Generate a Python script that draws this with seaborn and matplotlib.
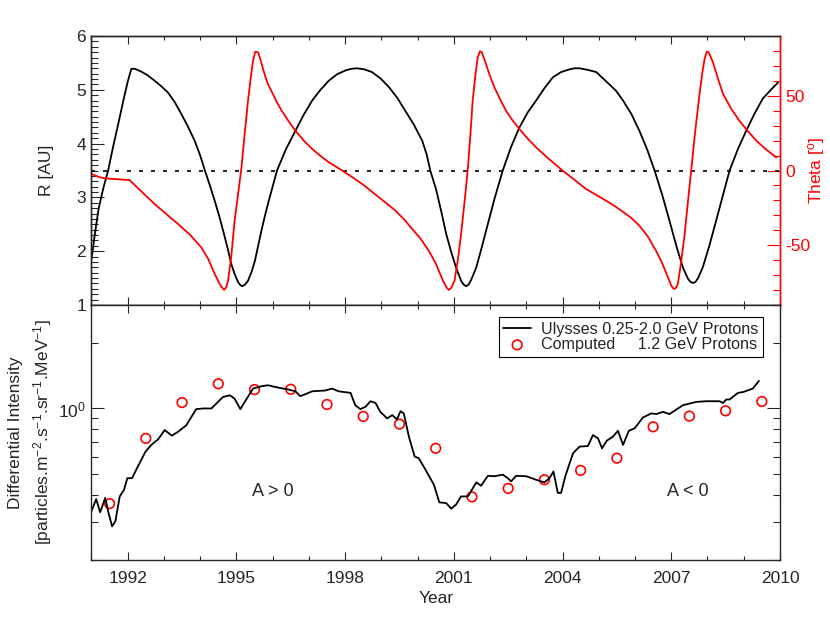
import matplotlib
matplotlib.use('Agg')
import matplotlib.pyplot as plt
import matplotlib.ticker as mticker
import seaborn as sns

# Ulysses heliocentric distance [AU]
r_year = [1991.0, 1991.1, 1991.2, 1991.33, 1991.46, 1991.6, 1991.75, 1991.88, 1992.0, 1992.1,
          1992.2, 1992.37, 1992.55, 1992.74, 1992.92, 1993.11, 1993.3, 1993.48, 1993.66, 1993.85,
          1994.0, 1994.13, 1994.27, 1994.4, 1994.54, 1994.68, 1994.77, 1994.86, 1994.96, 1995.05,
          1995.11, 1995.16, 1995.22, 1995.32, 1995.42, 1995.51, 1995.6, 1995.69, 1995.78, 1995.87,
          1996.0, 1996.12, 1996.37, 1996.63, 1996.86, 1997.09, 1997.32, 1997.55, 1997.78, 1998.01,
          1998.17, 1998.33, 1998.53, 1998.74, 1998.98, 1999.21, 1999.44, 1999.66, 1999.9, 2000.13,
          2000.25, 2000.35, 2000.51, 2000.65, 2000.79, 2000.93, 2001.06, 2001.2, 2001.27, 2001.34,
          2001.41, 2001.48, 2001.62, 2001.75, 2001.89, 2002.12, 2002.35, 2002.58, 2002.81, 2003.04,
          2003.27, 2003.5, 2003.73, 2003.96, 2004.19, 2004.33, 2004.47, 2004.7, 2004.93, 2005.2,
          2005.48, 2005.67, 2005.9, 2006.12, 2006.33, 2006.54, 2006.75, 2006.95, 2007.14, 2007.32,
          2007.46, 2007.53, 2007.6, 2007.67, 2007.74, 2007.87, 2008.05, 2008.24, 2008.43, 2008.61,
          2008.84, 2009.07, 2009.3, 2009.53, 2009.75, 2009.95]
r_au = [1.85, 2.35, 2.8, 3.18, 3.5, 3.95, 4.4, 4.8, 5.15, 5.39,
        5.39, 5.34, 5.27, 5.17, 5.07, 4.95, 4.77, 4.55, 4.32, 4.05,
        3.78, 3.5, 3.22, 2.94, 2.62, 2.26, 2.02, 1.76, 1.56, 1.42,
        1.37, 1.35, 1.37, 1.45, 1.62, 1.82, 2.1, 2.38, 2.64, 2.88,
        3.2, 3.5, 3.9, 4.24, 4.54, 4.8, 5.0, 5.17, 5.29, 5.36,
        5.39, 5.4, 5.38, 5.33, 5.21, 5.05, 4.85, 4.61, 4.35, 4.05,
        3.8, 3.5, 3.15, 2.75, 2.32, 1.98, 1.7, 1.45, 1.38, 1.35,
        1.38, 1.47, 1.7, 2.02, 2.38, 2.97, 3.5, 3.94, 4.3, 4.58,
        4.8, 5.03, 5.23, 5.33, 5.38, 5.4, 5.4, 5.37, 5.33, 5.16,
        4.98, 4.8, 4.55, 4.24, 3.9, 3.5, 3.05, 2.57, 2.1, 1.7,
        1.49, 1.43, 1.41, 1.43, 1.5, 1.7, 2.1, 2.57, 3.05, 3.5,
        3.9, 4.24, 4.56, 4.84, 5.0, 5.14]

# Ulysses heliographic latitude [deg]
theta_year = [1991.0, 1991.2, 1991.36, 1991.7, 1992.05, 1992.4, 1992.74, 1993.06, 1993.39, 1993.72,
              1994.03, 1994.22, 1994.4, 1994.55, 1994.66, 1994.72, 1994.77, 1994.86, 1994.95, 1995.05,
              1995.14, 1995.23, 1995.32, 1995.4, 1995.46, 1995.52, 1995.6, 1995.66, 1995.71, 1995.79,
              1995.87, 1995.98, 1996.1, 1996.25, 1996.44, 1996.63, 1996.86, 1997.09, 1997.32, 1997.55,
              1997.92, 1998.2, 1998.47, 1998.7, 1998.93, 1999.16, 1999.39, 1999.62, 1999.85, 2000.08,
              2000.31, 2000.51, 2000.6, 2000.7, 2000.8, 2000.86, 2000.93, 2001.02, 2001.11, 2001.2,
              2001.3, 2001.39, 2001.46, 2001.52, 2001.6, 2001.66, 2001.72, 2001.77, 2001.84, 2001.98,
              2002.12, 2002.28, 2002.44, 2002.62, 2002.81, 2003.04, 2003.27, 2003.63, 2004.0, 2004.33,
              2004.65, 2004.93, 2005.2, 2005.43, 2005.66, 2005.9, 2006.12, 2006.35, 2006.58, 2006.75,
              2006.91, 2007.0, 2007.07, 2007.12, 2007.18, 2007.27, 2007.37, 2007.46, 2007.55, 2007.66,
              2007.78, 2007.86, 2007.92, 2007.98, 2008.03, 2008.08, 2008.15, 2008.29, 2008.43, 2008.65,
              2008.88, 2009.12, 2009.35, 2009.62, 2009.9]
theta_deg = [-2.3, -4.3, -5.2, -5.8, -6.4, -14.5, -22.4, -29.0, -35.8, -43.0,
             -51.4, -59.0, -69.2, -76.5, -79.9, -78.0, -73.7, -57.0, -33.6, -15.0,
             2.1, 25.0, 46.7, 63.0, 73.5, 79.5, 79.0, 74.5, 70.1, 63.5,
             57.9, 52.5, 46.5, 40.0, 33.0, 26.6, 20.0, 14.4, 9.8, 5.5,
             0.0, -4.5, -9.0, -13.4, -17.9, -22.3, -26.9, -32.5, -39.1, -45.5,
             -53.7, -62.6, -68.0, -73.7, -78.3, -79.9, -78.5, -73.7, -60.0, -42.5,
             -20.0, 2.1, 25.0, 46.7, 65.0, 75.7, 79.8, 79.2, 74.6, 64.5,
             55.7, 47.5, 40.0, 33.5, 27.8, 21.3, 15.5, 7.6, 0.0, -6.2,
             -12.4, -16.3, -20.2, -23.6, -27.5, -31.8, -36.9, -44.0, -53.7, -62.0,
             -71.5, -77.0, -79.3, -78.8, -76.0, -62.0, -42.5, -21.0, 0.0, 26.0,
             51.2, 66.0, 74.6, 79.5, 79.2, 76.5, 72.4, 61.5, 51.2, 41.5,
             33.3, 26.2, 19.9, 14.0, 8.8]

# Ulysses 0.25-2.0 GeV protons
ulysses_year = [1991.0, 1991.13, 1991.24, 1991.38, 1991.47, 1991.57, 1991.66, 1991.78, 1991.9,
                1991.99, 1992.12, 1992.28, 1992.49, 1992.65, 1992.84, 1993.02, 1993.22, 1993.39,
                1993.62, 1993.75, 1993.89, 1994.08, 1994.31, 1994.63, 1994.82, 1994.95, 1995.11,
                1995.27, 1995.46, 1995.69, 1995.87, 1996.07, 1996.44, 1996.63, 1996.76, 1996.9,
                1997.09, 1997.45, 1997.64, 1997.82, 1998.15, 1998.28, 1998.42, 1998.56, 1998.7,
                1998.84, 1998.97, 1999.16, 1999.3, 1999.43, 1999.53, 1999.62, 1999.76, 1999.92,
                2000.03, 2000.22, 2000.45, 2000.6, 2000.79, 2000.93, 2001.06, 2001.2, 2001.39,
                2001.62, 2001.75, 2001.94, 2002.12, 2002.35, 2002.49, 2002.58, 2002.72, 2003.0,
                2003.27, 2003.5, 2003.64, 2003.75, 2003.87, 2003.96, 2004.08, 2004.29, 2004.47,
                2004.7, 2004.84, 2004.98, 2005.09, 2005.22, 2005.39, 2005.53, 2005.67, 2005.83,
                2005.99, 2006.22, 2006.45, 2006.59, 2006.77, 2006.95, 2007.32, 2007.69, 2007.97,
                2008.33, 2008.43, 2008.52, 2008.61, 2008.84, 2008.98, 2009.25, 2009.42]
ulysses_flux = [0.336, 0.382, 0.332, 0.387, 0.33, 0.286, 0.302, 0.393, 0.422,
                0.477, 0.477, 0.54, 0.632, 0.679, 0.721, 0.795, 0.749, 0.781,
                0.838, 0.91, 0.993, 1.0, 1.0, 1.13, 1.15, 1.11, 0.993,
                1.1, 1.235, 1.266, 1.28, 1.256, 1.222, 1.2, 1.14, 1.163,
                1.2, 1.21, 1.235, 1.2, 1.18, 1.035, 0.993, 1.017, 1.08,
                1.06, 0.965, 0.9, 0.932, 0.89, 0.972, 0.948, 0.741, 0.6,
                0.59, 0.521, 0.445, 0.369, 0.366, 0.345, 0.36, 0.393, 0.393,
                0.456, 0.44, 0.489, 0.487, 0.495, 0.477, 0.461, 0.489, 0.487,
                0.469, 0.456, 0.477, 0.512, 0.408, 0.408, 0.489, 0.622, 0.667,
                0.671, 0.754, 0.728, 0.655, 0.71, 0.741, 0.789, 0.679, 0.789,
                0.81, 0.909, 0.949, 0.942, 0.965, 0.942, 1.035, 1.072, 1.08,
                1.08, 1.06, 1.1, 1.1, 1.18, 1.19, 1.235, 1.34]

# computed 1.2 GeV protons
computed_year = [1991.5, 1992.5, 1993.5, 1994.5, 1995.5, 1996.5, 1997.5, 1998.5, 1999.5, 2000.5,
                 2001.5, 2002.5, 2003.5, 2004.5, 2005.5, 2006.5, 2007.5, 2008.5, 2009.5]
computed_flux = [0.364, 0.728, 1.065, 1.30, 1.222, 1.226, 1.043, 0.919, 0.847, 0.655,
                 0.391, 0.428, 0.469, 0.518, 0.59, 0.823, 0.922, 0.975, 1.077]

year_ticks = [1992, 1995, 1998, 2001, 2004, 2007, 2010]
cycle_labels = ['A > 0', 'A < 0']
cycle_pos = [(1996.0, 0.413), (2007.45, 0.413)]

sns.set_style('ticks')
plt.rcParams['font.family'] = ['Liberation Sans', 'DejaVu Sans']
plt.rcParams['mathtext.default'] = 'regular'
plt.rcParams['axes.unicode_minus'] = False
plt.rcParams['axes.linewidth'] = 1.0

fig = plt.figure(figsize=(8.3, 6.23), dpi=100)
ax_r = fig.add_axes([0.1102, 0.5104, 0.8295, 0.4318])
ax_th = ax_r.twinx()
ax_fl = fig.add_axes([0.1102, 0.1011, 0.8295, 0.4093])

# top panel: distance and latitude
sns.lineplot(x=r_year, y=r_au, ax=ax_r, color='black', lw=1.3)
ax_th.axhline(0, color='black', lw=1.2, ls=(0, (2.4, 4.8)))
sns.lineplot(x=theta_year, y=theta_deg, ax=ax_th, color='red', lw=1.3)

ax_r.set_xlim(1991, 2010)
ax_r.set_ylim(1, 6)
ax_th.set_ylim(-90, 90)
ax_r.xaxis.set_major_locator(mticker.FixedLocator(year_ticks))
ax_r.xaxis.set_minor_locator(mticker.MultipleLocator(1))
ax_r.yaxis.set_major_locator(mticker.MultipleLocator(1))
ax_r.yaxis.set_minor_locator(mticker.MultipleLocator(0.1))
ax_th.yaxis.set_major_locator(mticker.MultipleLocator(50))
ax_th.yaxis.set_minor_locator(mticker.MultipleLocator(10))

ax_r.tick_params(axis='x', which='both', direction='in', top=True, bottom=True, labelbottom=False)
ax_r.tick_params(axis='x', which='major', length=5.8, width=0.8)
ax_r.tick_params(axis='x', which='minor', length=2.9, width=0.8)
ax_r.tick_params(axis='y', which='both', direction='in', left=True, right=False, labelsize=12.5, pad=4)
ax_r.tick_params(axis='y', which='major', length=9.4, width=0.8)
ax_r.tick_params(axis='y', which='minor', length=5, width=0.8)
ax_th.tick_params(axis='y', which='both', direction='in', right=True, colors='red', labelsize=12.5, pad=4)
ax_th.tick_params(axis='y', which='major', length=9.4, width=0.8)
ax_th.tick_params(axis='y', which='minor', length=5, width=0.8)
ax_th.spines['right'].set_color('red')
ax_r.spines['right'].set_color('red')

ax_r.set_ylabel('R [AU]', fontsize=12.5, va='center')
ax_r.yaxis.set_label_coords(-0.065, 0.5)
ax_th.set_ylabel('Theta [$^o$]', fontsize=12.5, color='red', va='center')
ax_th.yaxis.set_label_coords(1.053, 0.5)
ax_r.set_xlabel('')

# bottom panel: proton intensities
ax_fl.set_yscale('log')
sns.lineplot(x=ulysses_year, y=ulysses_flux, ax=ax_fl, color='black', lw=1.3,
             label='Ulysses 0.25-2.0 GeV Protons')
sns.scatterplot(x=computed_year, y=computed_flux, ax=ax_fl, marker='o', s=48,
                facecolor='none', edgecolor='red', linewidth=1.2,
                label='Computed     1.2 GeV Protons')
for lab, (xx, yy) in zip(cycle_labels, cycle_pos):
    ax_fl.text(xx, yy, lab, ha='center', va='center', fontsize=13)

ax_fl.set_xlim(1991, 2010)
ax_fl.set_ylim(0.2, 3.0)
ax_fl.xaxis.set_major_locator(mticker.FixedLocator(year_ticks))
ax_fl.xaxis.set_minor_locator(mticker.MultipleLocator(1))
ax_fl.xaxis.set_major_formatter(mticker.FormatStrFormatter('%d'))
ax_fl.yaxis.set_major_locator(mticker.LogLocator(base=10))
ax_fl.yaxis.set_minor_locator(mticker.LogLocator(base=10, subs=[2, 3, 4, 5, 6, 7, 8, 9]))
ax_fl.yaxis.set_minor_formatter(mticker.NullFormatter())
ax_fl.tick_params(axis='x', which='both', direction='in', top=True, bottom=True, labelsize=12.5, pad=8)
ax_fl.tick_params(axis='x', which='major', length=5.8, width=0.8)
ax_fl.tick_params(axis='x', which='minor', length=2.9, width=0.8)
ax_fl.tick_params(axis='y', which='both', direction='in', left=True, right=True, labelsize=12.5, pad=4)
ax_fl.tick_params(axis='y', which='major', length=9.4, width=0.8)
ax_fl.tick_params(axis='y', which='minor', length=5, width=0.8)

ax_fl.set_xlabel('Year', fontsize=12.5, va='center')
ax_fl.xaxis.set_label_coords(0.5, -0.149)
ax_fl.set_ylabel('Differential Intensity\n[particles.m$^{-2}$.s$^{-1}$.sr$^{-1}$.MeV$^{-1}$]',
                 fontsize=12.5, va='center', linespacing=1.5)
ax_fl.yaxis.set_label_coords(-0.088, 0.5)

leg = ax_fl.legend(loc='upper right', bbox_to_anchor=(0.975, 0.952), frameon=True,
                   fancybox=False, edgecolor='black', framealpha=1, fontsize=11.6,
                   handlelength=1.7, handletextpad=0.6, labelspacing=0.0,
                   borderpad=0.3, borderaxespad=0)
leg.get_frame().set_linewidth(0.8)

fig.savefig('out.png', dpi=100)
